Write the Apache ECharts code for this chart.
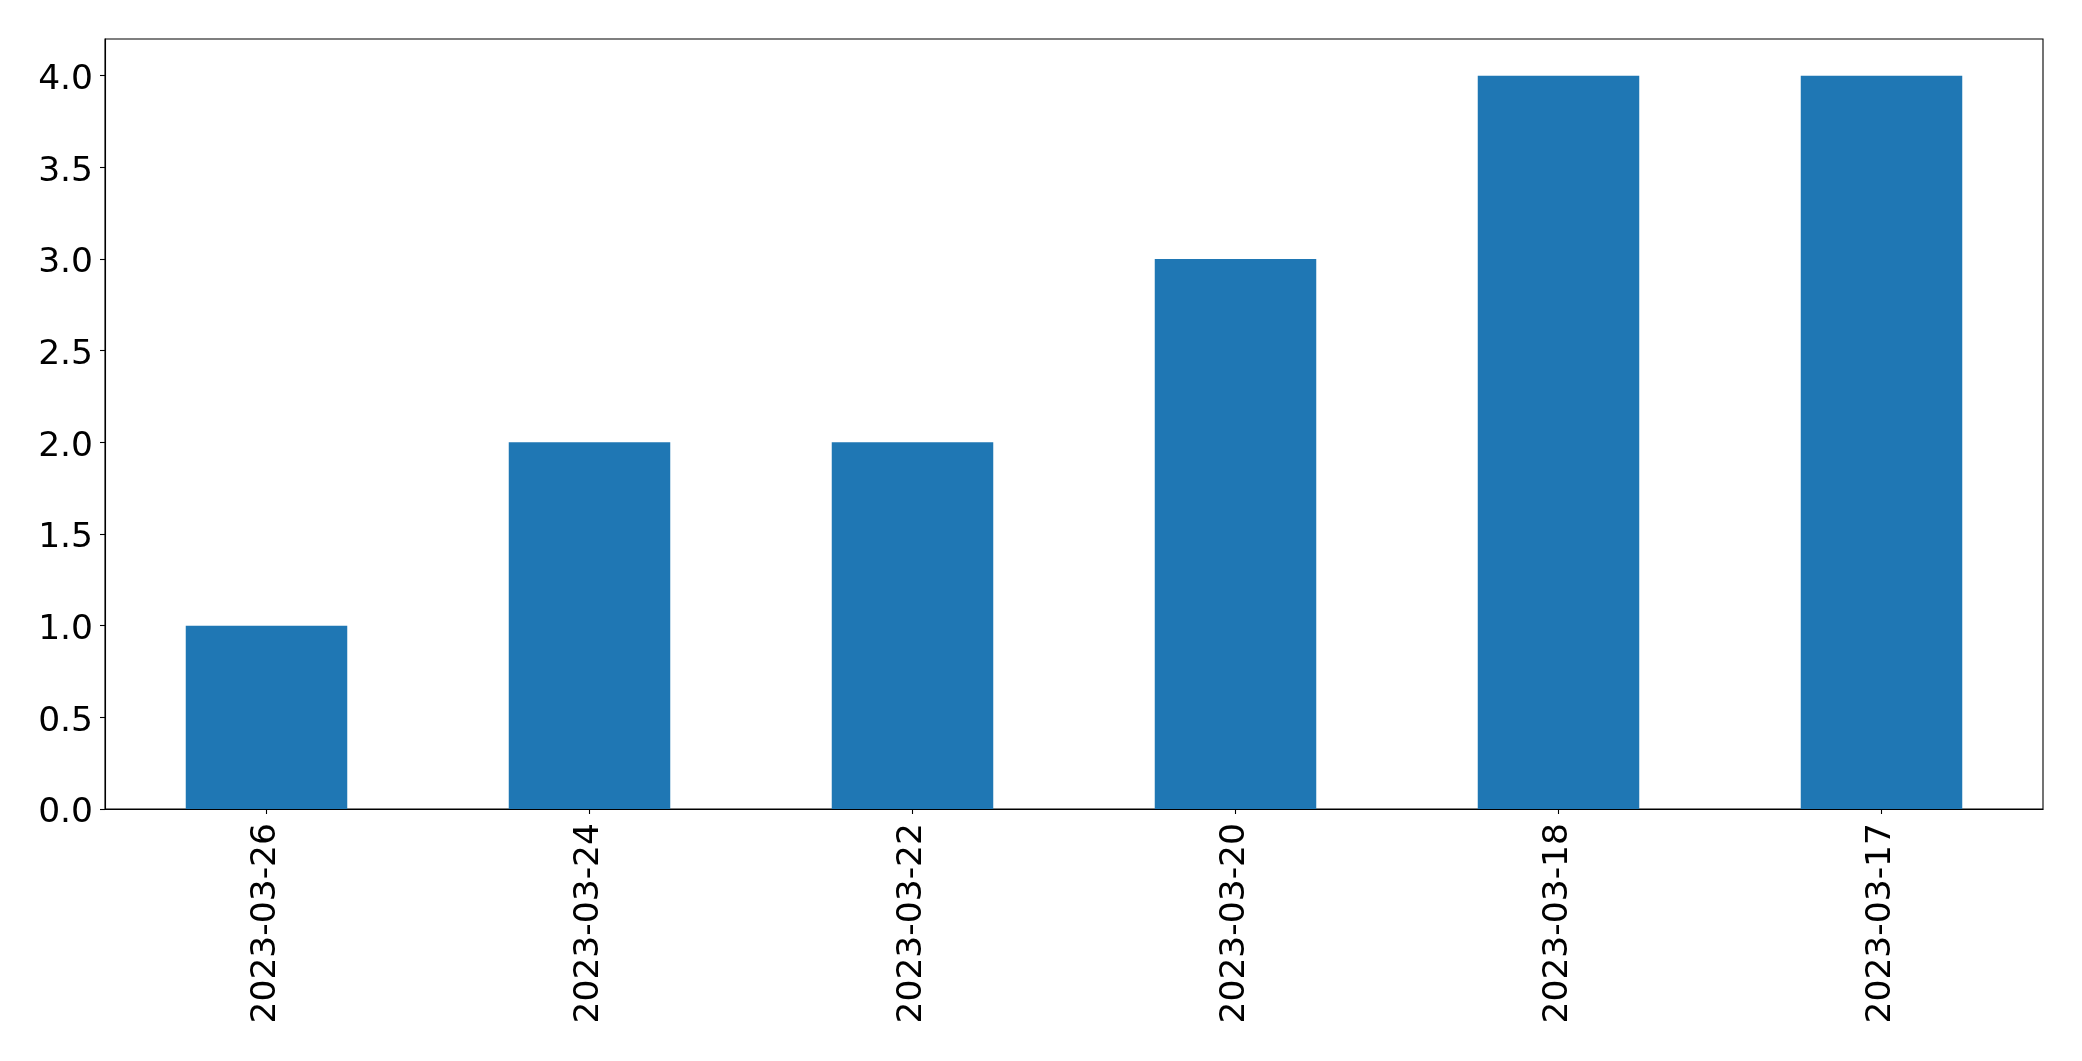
<!DOCTYPE html>
<html>
<head>
<meta charset="utf-8">
<script src="https://cdn.jsdelivr.net/npm/echarts@6/dist/echarts.min.js"></script>
<style>html,body{margin:0;padding:0;background:#fff}#c{width:2082px;height:1061px}</style>
</head>
<body>
<div id="c"></div>
<script>
const categories = ['2023-03-26', '2023-03-24', '2023-03-22', '2023-03-20', '2023-03-18', '2023-03-17'];
const values = [1, 2, 2, 3, 4, 4];
const yMin = 0, yMax = 4.2, yStep = 0.5;

const chart = echarts.init(document.getElementById('c'), null, {renderer: 'canvas'});
const font = 'DejaVu Sans';
chart.setOption({
  animation: false,
  backgroundColor: '#ffffff',
  grid: {left: 105, right: 39, top: 39, bottom: 252, show: true, borderColor: '#000', borderWidth: 1.1, backgroundColor: 'transparent'},
  xAxis: {
    type: 'category',
    data: categories,
    boundaryGap: true,
    axisLine: {show: true, lineStyle: {color: '#000', width: 1.1}},
    axisTick: {show: true, alignWithLabel: true, length: 5, lineStyle: {color: '#000', width: 1.1}},
    axisLabel: {rotate: 90, margin: 14, fontFamily: font, fontSize: 34.5, color: '#000', interval: 0},
    splitLine: {show: false}
  },
  yAxis: {
    type: 'value',
    min: yMin, max: yMax, interval: yStep,
    axisLine: {show: true, lineStyle: {color: '#000', width: 1.1}},
    axisTick: {show: true, length: 5, lineStyle: {color: '#000', width: 1.1}},
    axisLabel: {
      margin: 12, color: '#000', showMaxLabel: false,
      rich: {t: {fontFamily: font, fontSize: 34.5, color: '#000', padding: [9, 0, 0, 0]}},
      formatter: v => (Math.abs(v / yStep - Math.round(v / yStep)) < 1e-6 ? '{t|' + v.toFixed(1) + '}' : '')
    },
    splitLine: {show: false}
  },
  series: [{
    type: 'bar',
    data: values,
    barWidth: '50%',
    itemStyle: {color: '#1f77b4'}
  }]
});
</script>
</body>
</html>
